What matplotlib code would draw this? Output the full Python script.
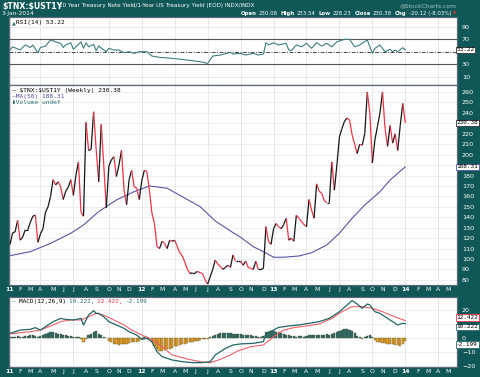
import matplotlib
matplotlib.use("Agg")
import matplotlib.pyplot as plt
import numpy as np
import pandas as pd
from matplotlib.collections import LineCollection

# weekly closes of $TNX:$UST1Y, 7-Jan-2011 .. 3-Jan-2014
price = [114, 125, 126, 137, 118, 121, 128, 128, 135, 141, 142, 116, 124, 129, 145, 150,
         160, 176, 171, 174, 169, 157, 165, 169, 176, 161, 180, 193, 145, 141, 231, 204,
         205, 241, 205, 174, 229, 190, 149, 189, 195, 198, 179, 190, 204, 166, 152, 176,
         185, 169, 168, 157, 175, 185, 184, 166, 144, 134, 112, 110, 117, 115, 110, 118,
         117, 118, 112, 106, 103, 97, 90, 86, 87, 87, 88, 87, 86, 80, 76, 83,
         90, 99, 95, 93, 90, 92, 94, 92, 104, 98, 98, 98, 94, 98, 92, 91,
         90, 98, 90, 90, 91, 131, 117, 114, 129, 134, 131, 129, 133, 139, 118, 120,
         117, 142, 139, 136, 133, 131, 157, 147, 139, 172, 165, 163, 156, 154, 154, 193,
         166, 190, 217, 225, 232, 235, 233, 219, 210, 201, 210, 209, 220, 260, 240, 192,
         214, 227, 240, 260, 225, 208, 228, 211, 220, 204, 228, 249, 230.38]

# MA(50), read at a few weeks
ma_wk = [0, 8, 16, 24, 29, 35, 42, 49, 55, 62, 68, 75, 81, 88, 91, 96, 100, 104,
         108, 114, 119, 125, 130, 135, 140, 146, 150, 156]
ma_val = [103.2, 107, 115, 124.7, 132.6, 145.4, 156.6, 164.5, 170, 167.8, 159.7, 150.2,
          136.4, 125.3, 120.8, 111.8, 107, 101.7, 101.7, 102.9, 106, 113.4, 124.7, 139.1,
          151.7, 164.5, 175.7, 188.31]

# RSI(14)
rsi_wk = [0, 1, 4, 6, 8, 9, 11, 12, 14, 16, 18, 20, 21, 22, 24, 25, 28, 29, 30, 31, 33,
          34, 35, 38, 39, 41, 43, 45, 47, 49, 51, 54, 56, 59, 64, 70, 75, 78, 80, 83, 87,
          88, 91, 93, 96, 98, 100, 101, 102, 104, 106, 109, 110, 111, 113, 115, 117, 119,
          121, 123, 125, 127, 129, 132, 134, 136, 138, 141, 143, 144, 146, 148, 150, 151,
          152, 153, 155, 156]
rsi_val = [52.9, 58, 53, 61, 57, 61, 48.6, 57, 59.3, 69, 66, 63.6, 57, 61, 64.6, 54, 66,
           55.6, 64.6, 58, 62, 51.8, 59.3, 50, 55.6, 52.9, 52.9, 48.6, 50.2, 47.6, 50.2,
           50.2, 43.3, 41.2, 39.6, 36.9, 34.2, 31.6, 43.3, 44.9, 49.2, 46.5, 47.6, 44.9,
           47.6, 44.9, 46.5, 64.6, 61, 64.6, 61, 63.6, 52.9, 51.8, 61, 58, 63.6, 55.6, 64.6,
           59.3, 63.6, 58, 66, 70, 70, 58, 61, 69, 47.6, 55.6, 61, 50.2, 54, 50.2, 52.9,
           50.2, 56.6, 53.22]

# MACD(12,26,9)
macd_wk = [0, 4, 8, 10, 12, 14, 17, 20, 22, 25, 28, 29, 31, 33, 34, 35, 37, 39, 42, 45,
           47, 50, 52, 54, 56, 58, 60, 64, 68, 72, 76, 79, 81, 85, 88, 91, 96, 100, 101,
           104, 106, 110, 114, 118, 122, 126, 130, 133, 135, 137, 139, 141, 142, 144, 146,
           148, 151, 153, 155, 156]
macd_val = [3.3, 5.7, 6.2, 7.4, 5.7, 8.1, 11.7, 14, 13.3, 12.9, 14, 9.3, 16.4, 19.5, 17.6,
            17.6, 15.2, 11.7, 9.3, 6.9, 4.5, 2.1, -1, -0.2, -2.6, -9.8, -13.3, -15.7, -16.9,
            -17.6, -17.6, -16.9, -12.1, -7.4, -5, -4.2, -3.8, -2.6, 3.3, 5.7, 7.6, 8.6, 9.3,
            10.5, 11.7, 14, 18.8, 23.6, 26.7, 24.3, 21.2, 24.3, 23.6, 18.8, 17.6, 15.2, 11.7,
            9.3, 10.5, 10.222]
sig_wk = [0, 4, 8, 12, 16, 20, 24, 28, 31, 34, 37, 41, 45, 48, 52, 56, 60, 64, 70, 75, 79,
          83, 87, 90, 95, 100, 104, 108, 112, 117, 122, 127, 131, 135, 139, 143, 147, 151, 156]
sig_val = [3, 3.8, 4.5, 5.7, 8.6, 11.7, 12.9, 12.9, 15.2, 17.6, 16.4, 12.9, 9.3, 5.7, 2.1,
           -1, -6.2, -12.1, -15, -16.9, -17.6, -15.2, -12.1, -9.1, -6.2, -5, 0.9, 5.7, 7.4,
           8.6, 10, 14, 18.8, 22.4, 22.4, 21.2, 18.8, 15.7, 12.422]
hist = [0.5, 1.0, 1.0, 1.5, 1.0, 1.0, 1.5, 1.5, 2.0, 2.0, 1.5, 0.5,
        1.5, 2.5, 3.0, 3.5, 4.0, 4.0, 3.5, 3.0, 3.0, 2.5, 2.0, 1.5, 1.5, 1.0,
        1.0, 0.5, -1.0, -3.0, -1.0,
        2.0, 3.0, 4.0, 5.0, 3.0, 2.0, 1.0, 0.0,
        -2.0, -3.0, -4.0, -4.5, -5.0, -4.5, -4.0, -4.0, -3.5, -3.0, -3.0, -2.5, -2.0,
        -1.0, 0.5, 1.0, -0.5,
        -3.0, -6.0, -8.0, -9.0, -9.0, -8.5, -8.0, -7.5, -7.0, -6.0, -5.5, -5.0, -4.5,
        -4.0, -3.5, -3.0, -2.5, -2.0, -2.0, -1.5, -1.0, -1.0, -0.5,
        0.5, 1.5, 2.5, 3.0, 3.5, 3.5, 3.5, 3.5, 3.5, 3.0, 3.0, 3.0, 3.0, 2.5, 2.5, 2.0,
        2.0, 1.5, 1.5, 1.0, 1.0,
        1.5, 4.0, 4.5, 5.0, 5.0, 4.5, 4.0, 3.5, 3.0, 2.5, 2.0,
        1.5, 1.5, 1.0, 1.5, 1.5, 1.0, 1.5, 2.0, 2.0, 2.5, 2.5, 2.0, 2.0, 2.5, 3.0, 2.5,
        3.0, 3.5, 4.5,
        5.0, 6.0, 6.5, 6.5, 6.0, 5.0, 3.5, 1.5, 0.5,
        -0.5, 0.5, 1.5, 2.0, 0.5,
        -1.5, -3.0, -3.0, -3.5, -3.5, -4.0, -4.0, -4.5, -5.0, -5.0, -5.5, -4.0, -2.199]

# weekly calendar, extended to May 2014 for the empty right margin
dates = pd.date_range("2011-01-07", periods=177, freq="W-FRI")

BG = "#105757"
TEAL = "#2e6e6e"
RED = "#ee3347"
W, H = 480, 377

fig = plt.figure(figsize=(4.8, 3.77), dpi=100, facecolor=BG)


def box(top, bottom, left=9, right=457):
    return [left / W, 1 - bottom / H, (right - left) / W, (bottom - top) / H]


ax_rsi = fig.add_axes(box(17, 85))
ax = fig.add_axes(box(85, 285))
ax_m = fig.add_axes(box(297, 367))

first = [0] + [i for i in range(1, len(dates)) if dates.month[i] != dates.month[i - 1]]
mlabels = [d.strftime("%y") if d.month == 1 else "JFMAMJJASOND"[d.month - 1] for d in dates[first]]
quarters = [i for i in first if dates.month[i] in (1, 4, 7, 10)]

for a in (ax_rsi, ax, ax_m):
    a.set_facecolor("white")
    a.set_xlim(-0.4, 176.4)
    for s in a.spines.values():
        s.set_color("#5d6b78")
        s.set_linewidth(0.9)
    a.yaxis.tick_right()
    a.tick_params(axis="y", length=0, pad=3.5, labelsize=4.6, labelcolor="white")
    a.tick_params(axis="x", length=0)
    for q in quarters:
        a.axvline(q, color="#e4e4e4", lw=0.6, zorder=0)

# ---- RSI panel (the 50 label sits under the value tag)
ax_rsi.set_ylim(-3, 105.7)
ax_rsi.set_yticks([10, 30, 70, 90])
ax_rsi.set_xticks([])
for lv in (10, 90):
    ax_rsi.axhline(lv, color="#e4e4e4", lw=0.6, zorder=0)
for lv in (30, 70):
    ax_rsi.axhline(lv, color="#555555", lw=0.8)
ax_rsi.axhline(50, color="#444444", lw=0.7, ls=(0, (4, 1.5, 1, 1.5)))
ax_rsi.plot(rsi_wk, rsi_val, color="#3f7d7d", lw=0.8)
ax_rsi.text(0.006, 0.95, "▲", transform=ax_rsi.transAxes, fontsize=3.6, color=TEAL, va="top")
ax_rsi.text(0.016, 0.96, "RSI(14) 53.22", transform=ax_rsi.transAxes, fontsize=4.4,
            family="DejaVu Sans Mono", va="top")

# ---- price panel
ax.set_ylim(75.1, 266.7)
ax.set_yticks([v for v in range(80, 261, 10) if v not in (190, 230)])
for lv in range(80, 261, 10):
    ax.axhline(lv, color="#e8e8e8", lw=0.5, zorder=0)
x = np.arange(len(price))
pts = np.column_stack([x, price])
segs = np.stack([pts[:-1], pts[1:]], axis=1)
cols = ["#151515" if b >= a else RED for a, b in zip(price[:-1], price[1:])]
ax.add_collection(LineCollection(segs, colors=cols, linewidths=0.9, zorder=3))
ax.plot(ma_wk, ma_val, color="#5555a6", lw=0.8, zorder=2)
ax.set_xticks(first)
ax.set_xticklabels(mlabels)
ax.tick_params(axis="x", pad=1.5, labelsize=4.4, labelcolor="white")
for lab in ax.get_xticklabels():
    if lab.get_text().isdigit():
        lab.set_fontweight("bold")

ax.text(0.006, 0.985, "\u2014 \\$TNX:\\$UST1Y (Weekly) 230.38", transform=ax.transAxes,
        fontsize=4.4, family="DejaVu Sans Mono", va="top")
ax.text(0.006, 0.955, "\u2014MA(50) 188.31", transform=ax.transAxes, fontsize=4.4,
        family="DejaVu Sans Mono", va="top", color="#4646a0")
ax.text(0.006, 0.925, "\u25aeVolume undef", transform=ax.transAxes, fontsize=4.4,
        family="DejaVu Sans Mono", va="top", color=TEAL)

# ---- MACD panel (10 hidden by the tags)
ax_m.set_ylim(-20.7, 29.3)
ax_m.set_yticks([-20, -10, 0, 20])
for lv in (-20, -10, 0, 10, 20):
    ax_m.axhline(lv, color="#e8e8e8", lw=0.5, zorder=0)
hcol = [TEAL if h >= 0 else "#e9a22a" for h in hist]
ax_m.bar(np.arange(len(hist)), hist, width=0.85, color=hcol, edgecolor="#4a4a2a",
         linewidth=0.25, zorder=2)
ax_m.plot(sig_wk, sig_val, color="#f0606a", lw=0.8, zorder=3)
ax_m.plot(macd_wk, macd_val, color="#236464", lw=0.9, zorder=4)
ax_m.set_xticks(first)
ax_m.set_xticklabels(mlabels)
ax_m.tick_params(axis="x", pad=1.5, labelsize=4.4, labelcolor="white")
for lab in ax_m.get_xticklabels():
    if lab.get_text().isdigit():
        lab.set_fontweight("bold")
mt = [("\u2014 ", TEAL), ("MACD(12,26,9) ", "black"), ("10.222, ", TEAL),
      ("12.422, ", RED), ("-2.199", TEAL)]
xpos = 0.006
for s, c in mt:
    ax_m.text(xpos, 0.97, s, transform=ax_m.transAxes, fontsize=4.3,
              family="DejaVu Sans Mono", va="top", color=c)
    xpos += len(s) * 0.00795


def tag(a, y, s, ec, dy=0):
    a.annotate(s, xy=(1, y), xycoords=("axes fraction", "data"), xytext=(-0.5, dy),
               textcoords="offset points", ha="left", va="center", fontsize=4.3,
               color="black", family="DejaVu Sans Mono", annotation_clip=False, zorder=10,
               bbox=dict(boxstyle="square,pad=0.12", fc="white", ec=ec, lw=0.6))


tag(ax_rsi, 53.22, "53.22", "#333333")
tag(ax, 230.38, "230.38", "#333333")
tag(ax, 188.31, "188.31", "#5555a6")
tag(ax_m, 12.422, "12.422", RED, dy=2.2)
tag(ax_m, 10.222, "10.222", TEAL, dy=-2.2)
tag(ax_m, -2.199, "-2.199", TEAL, dy=-2.5)

# ---- header
fig.text(2 / W, 1 - 6 / H, "\\$TNX:\\$UST1Y", color="white", fontsize=5.6,
         fontweight="bold", va="center")
fig.text(59 / W, 1 - 6 / H, "10 Year Treasury Note Yield/1-Year US Treasury Yield (EOD) INDX/INDX",
         color="white", fontsize=4.1, va="center")
fig.text(457 / W, 1 - 6 / H, "@StockCharts.com", color="#a9c4c4", fontsize=4.3,
         va="center", ha="right")
fig.text(2 / W, 1 - 13.5 / H, "3-Jan-2014", color="white", fontsize=4.3, va="center")

hdr = [("Open", True), ("230.08", False), ("High", True), ("233.54", False),
       ("Low", True), ("228.23", False), ("Close", True), ("230.38", False),
       ("Chg", True), ("-20.12 (-8.03%)", False)]
renderer = fig.canvas.get_renderer()
xp = 241
for k, (s, b) in enumerate(hdr):
    t = fig.text(xp / W, 1 - 13.5 / H, s, color="white", fontsize=3.85, va="center",
                 fontweight="bold" if b else "normal")
    xp = t.get_window_extent(renderer).x1 + (1.8 if b else 3.2)
fig.text((xp - 1) / W, 1 - 13.5 / H, "\u25bc", color="#ff3030", fontsize=3, va="center")

fig.savefig("out.png", dpi=100, facecolor=BG)
